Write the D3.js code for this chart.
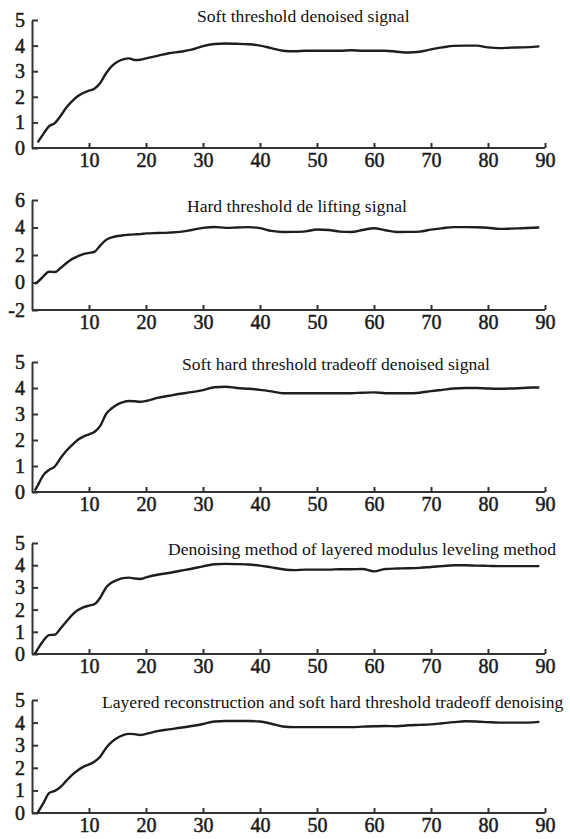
<!DOCTYPE html>
<html>
<head>
<meta charset="utf-8">
<script src="https://cdn.jsdelivr.net/npm/d3@7"></script>
<style>
  body { margin: 0; background: #fff; }
  .title { font-family: "Liberation Serif", "Times New Roman", serif; font-size: 17.6px; fill: #111; }
  .domain, .tick line { stroke: #333; stroke-width: 2px; }
</style>
</head>
<body>
<div id="chart"></div>
<script>
// sample positions along the horizontal axis (shared by all five curves)
var sampleX = [0.5, 1, 2, 3, 4, 5, 6, 7, 8, 9, 10, 11, 12, 13, 14, 15, 16, 17, 18, 19, 20,
    22, 24, 26, 28, 30, 32, 34, 36, 38, 40, 42, 44, 46, 48, 50, 52, 54, 56, 58, 60,
    62, 64, 66, 68, 70, 72, 74, 76, 78, 80, 82, 84, 86, 88, 89];

var softY = [null, 0.22, 0.55, 0.85, 0.97, 1.25, 1.57, 1.82, 2.02, 2.15, 2.24, 2.32, 2.55, 2.92, 3.2, 3.37, 3.46, 3.5, 3.44, 3.45, 3.5,
    3.6, 3.7, 3.76, 3.84, 3.98, 4.06, 4.08, 4.07, 4.05, 4.0, 3.9, 3.8, 3.78, 3.8, 3.8, 3.8, 3.8, 3.82, 3.8, 3.8,
    3.8, 3.76, 3.73, 3.76, 3.85, 3.93, 3.99, 4.0, 4.0, 3.93, 3.9, 3.92, 3.93, 3.95, 3.97];

var hardY = [-0.1, 0.05, 0.45, 0.78, 0.76, 1.05, 1.4, 1.7, 1.9, 2.07, 2.15, 2.25, 2.7, 3.1, 3.28, 3.38, 3.44, 3.47, 3.5, 3.52, 3.57,
    3.6, 3.63, 3.68, 3.82, 3.97, 4.04, 3.97, 4.0, 4.03, 3.95, 3.75, 3.67, 3.68, 3.72, 3.85, 3.82, 3.7, 3.67, 3.82, 3.95,
    3.8, 3.67, 3.68, 3.7, 3.85, 3.95, 4.03, 4.03, 4.02, 3.98, 3.9, 3.92, 3.95, 3.98, 4.0];

var tradeoffY = [0.05, 0.25, 0.65, 0.85, 0.98, 1.3, 1.58, 1.8, 2.0, 2.13, 2.22, 2.32, 2.55, 3.0, 3.22, 3.37, 3.46, 3.5, 3.49, 3.47, 3.5,
    3.62, 3.7, 3.78, 3.84, 3.92, 4.03, 4.05, 4.0, 3.97, 3.93, 3.87, 3.8, 3.8, 3.8, 3.8, 3.8, 3.8, 3.8, 3.82, 3.83,
    3.8, 3.8, 3.8, 3.82, 3.88, 3.93, 3.98, 4.0, 4.0, 3.98, 3.97, 3.98, 4.0, 4.02, 4.02];

var modulusY = [0.0, 0.22, 0.6, 0.85, 0.87, 1.15, 1.45, 1.75, 1.97, 2.1, 2.18, 2.25, 2.55, 3.0, 3.22, 3.34, 3.42, 3.44, 3.4, 3.38, 3.45,
    3.57, 3.65, 3.75, 3.84, 3.95, 4.04, 4.06, 4.05, 4.03, 3.98, 3.9, 3.82, 3.78, 3.8, 3.8, 3.8, 3.82, 3.82, 3.83, 3.72,
    3.83, 3.85, 3.86, 3.88, 3.92, 3.96, 4.0, 4.0, 3.98, 3.97, 3.96, 3.96, 3.96, 3.96, 3.96];

var layeredY = [null, 0.02, 0.44, 0.88, 0.98, 1.15, 1.42, 1.68, 1.88, 2.04, 2.15, 2.28, 2.5, 2.88, 3.15, 3.33, 3.45, 3.5, 3.49, 3.45, 3.5,
    3.62, 3.7, 3.77, 3.85, 3.94, 4.05, 4.07, 4.07, 4.07, 4.05, 3.95, 3.83, 3.8, 3.8, 3.8, 3.8, 3.8, 3.8, 3.82, 3.84,
    3.85, 3.84, 3.88, 3.9, 3.92, 3.97, 4.02, 4.06, 4.05, 4.02, 4.0, 4.0, 4.0, 4.01, 4.03];

var titles = [
    "Soft threshold denoised signal",
    "Hard threshold de lifting signal",
    "Soft hard threshold tradeoff denoised signal",
    "Denoising method of layered modulus leveling method",
    "Layered reconstruction and soft hard threshold tradeoff denoising"
];
var series = [softY, hardY, tradeoffY, modulusY, layeredY];
var xTicks = [10, 20, 30, 40, 50, 60, 70, 80, 90];
var yTicksStd = [0, 1, 2, 3, 4, 5];
var yTicksHard = [-2, 0, 2, 4, 6];

// panel placement (pixels)
var panels = [
    {top: 20, bottom: 148, yDom: [0, 5], yTicks: yTicksStd, tx: 197, ty: 22},
    {top: 200, bottom: 310, yDom: [-2, 6], yTicks: yTicksHard, tx: 187, ty: 212},
    {top: 362, bottom: 492, yDom: [0, 5], yTicks: yTicksStd, tx: 182, ty: 370},
    {top: 543, bottom: 654, yDom: [0, 5], yTicks: yTicksStd, tx: 168, ty: 555},
    {top: 700, bottom: 813, yDom: [0, 5], yTicks: yTicksStd, tx: 102, ty: 708}
];

var width = 570, height = 839;
var left = 32, right = 545;

var svg = d3.select("#chart").append("svg")
    .attr("width", width)
    .attr("height", height);

var x = d3.scaleLinear().domain([0, 90]).range([left, right]);

panels.forEach(function(p, i) {
    var y = d3.scaleLinear().domain(p.yDom).range([p.bottom, p.top]);
    var g = svg.append("g").attr("class", "panel");

    g.append("g")
        .attr("transform", "translate(0," + p.bottom + ")")
        .call(d3.axisBottom(x).tickValues(xTicks).tickSize(-5).tickSizeOuter(0).tickPadding(5))
        .call(function(a) { a.select(".domain").attr("d", "M" + left + ",0H" + right); });

    g.append("g")
        .attr("transform", "translate(" + left + ",0)")
        .call(d3.axisLeft(y).tickValues(p.yTicks).tickSize(-6).tickSizeOuter(0).tickPadding(7)
            .tickFormat(function(d) { return String(d); }));

    // tick labels: serif, slightly heavy like the scanned original
    g.selectAll(".tick text")
        .style("font-family", "'Liberation Serif', 'Times New Roman', serif")
        .style("font-size", "20px")
        .style("fill", "#1a1a1a")
        .style("stroke", "#1a1a1a")
        .style("stroke-width", "0.5px");

    var pts = sampleX.map(function(v, j) { return [v, series[i][j]]; });
    var line = d3.line()
        .defined(function(d) { return d[1] !== null; })
        .x(function(d) { return x(d[0]); })
        .y(function(d) { return y(d[1]); })
        .curve(d3.curveMonotoneX);

    g.append("path")
        .datum(pts)
        .attr("fill", "none")
        .attr("stroke", "#1e1e1e")
        .attr("stroke-width", 2.4)
        .attr("stroke-linejoin", "round")
        .attr("d", line);

    g.append("text")
        .attr("class", "title")
        .attr("x", p.tx)
        .attr("y", p.ty)
        .text(titles[i]);
});
</script>
</body>
</html>
